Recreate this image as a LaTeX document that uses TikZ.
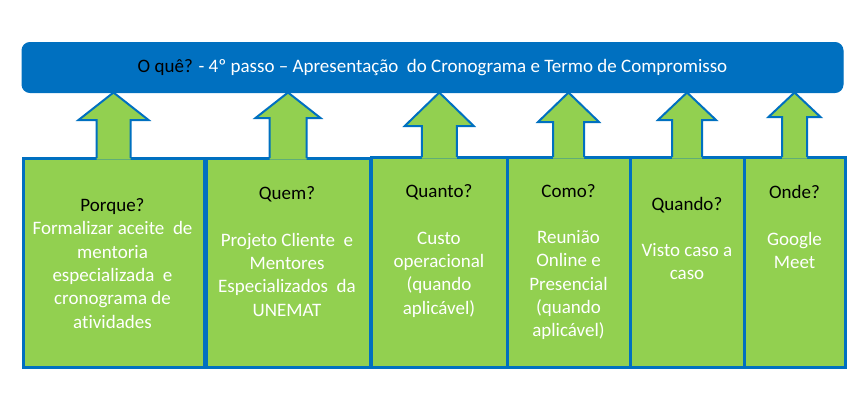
\documentclass[tikz,border=0pt]{standalone}
\usepackage{fontspec}
\setmainfont{Carlito}[Ligatures=NoCommon]
\usetikzlibrary{calc}
\definecolor{offgreen}{HTML}{92D050}
\definecolor{offblue}{HTML}{0070C0}
\pgfdeclarelayer{boxlayer}
\pgfdeclarelayer{arrlayer}
\pgfsetlayers{boxlayer,arrlayer,main}
\newcommand\myarrow[4]{%
  \fill[arrfill] let \p1=(#1.north), \p2=(what.south) in
    (\x1-#2pt,\y1-1.6pt) -- (\x1-#2pt,-#4pt) -- (\x1-#3pt,-#4pt) -- (\x1,\y2)
    -- (\x1+#3pt,-#4pt) -- (\x1+#2pt,-#4pt) -- (\x1+#2pt,\y1-1.6pt) -- cycle;
  \draw[arrline] let \p1=(#1.north), \p2=(what.south) in
    (\x1-#2pt,\y1) -- (\x1-#2pt,-#4pt) -- (\x1-#3pt,-#4pt) -- (\x1,\y2)
    -- (\x1+#3pt,-#4pt) -- (\x1+#2pt,-#4pt) -- (\x1+#2pt,\y1);
}
\begin{document}
\begin{tikzpicture}[x=1pt,y=-1pt,
  bar/.style={fill=offblue,draw=offblue,line width=1pt,rounded corners=8pt,
    minimum width=821pt,minimum height=50pt,inner sep=0pt,outer sep=0pt,
    text=white,font=\fontsize{19}{23.3}\selectfont},
  box/.style={fill=offgreen,draw=offblue,line width=3pt,inner sep=0pt,outer sep=0pt},
  txt/.style={align=center,text=white,font=\fontsize{19}{23.3}\selectfont,inner sep=0pt},
  arrfill/.style={fill=offgreen},
  arrline/.style={draw=offblue,line width=2pt,line join=miter}]
\useasboundingbox (0,0) rectangle (867,410);
\node[bar] (what) at (432.5,67.5) {\textcolor{black}{O quê?} - 4º passo – Apresentação\ \ do Cronograma e Termo de Compromisso};
\begin{pgfonlayer}{boxlayer}
\node[box,minimum width=181pt,minimum height=209pt] (b1) at (113.5,262.5) {};
\node[box,minimum width=164pt,minimum height=209pt] (b2) at (288,262.5) {};
\node[box,minimum width=135.5pt,minimum height=210pt] (b3) at (439.25,262) {};
\node[box,minimum width=123pt,minimum height=210pt] (b4) at (568.5,262) {};
\node[box,minimum width=114pt,minimum height=210pt] (b5) at (687,262) {};
\node[box,minimum width=101pt,minimum height=210pt] (b6) at (794.5,262) {};
\end{pgfonlayer}
\begin{pgfonlayer}{arrlayer}
\myarrow{b1}{17}{35}{120}
\myarrow{b2}{18.5}{32.5}{118}
\myarrow{b3}{17.5}{34.5}{126}
\myarrow{b4}{15.5}{30.5}{122}
\myarrow{b5}{15}{29}{120}
\myarrow{b6}{12.5}{26}{117}
\end{pgfonlayer}
\node[txt] (t1) at (112.5,263.5) {\textcolor{black}{Porque?}\\Formalizar aceite\ \ de\\mentoria\\especializada\ \ e\\cronograma de\\atividades};
\node[txt] (t2) at (287,251.5) {\textcolor{black}{Quem?}\\[23.3pt]Projeto Cliente\ \ e\\Mentores\\Especializados\ \ da\\UNEMAT};
\node[txt] (t3) at (439,251) {\textcolor{black}{Quanto?}\\[23.3pt]Custo\\operacional\\(quando\\aplicável)};
\node[txt] (t4) at (568.5,262) {\textcolor{black}{Como?}\\[23.3pt]Reunião\\Online e\\Presencial\\(quando\\aplicável)};
\node[txt] (t5) at (687,238.5) {\textcolor{black}{Quando?}\\[23.3pt]Visto caso a\\caso};
\node[txt] (t6) at (794.5,227) {\textcolor{black}{Onde?}\\[23.3pt]Google\\Meet};
\end{tikzpicture}
\end{document}
